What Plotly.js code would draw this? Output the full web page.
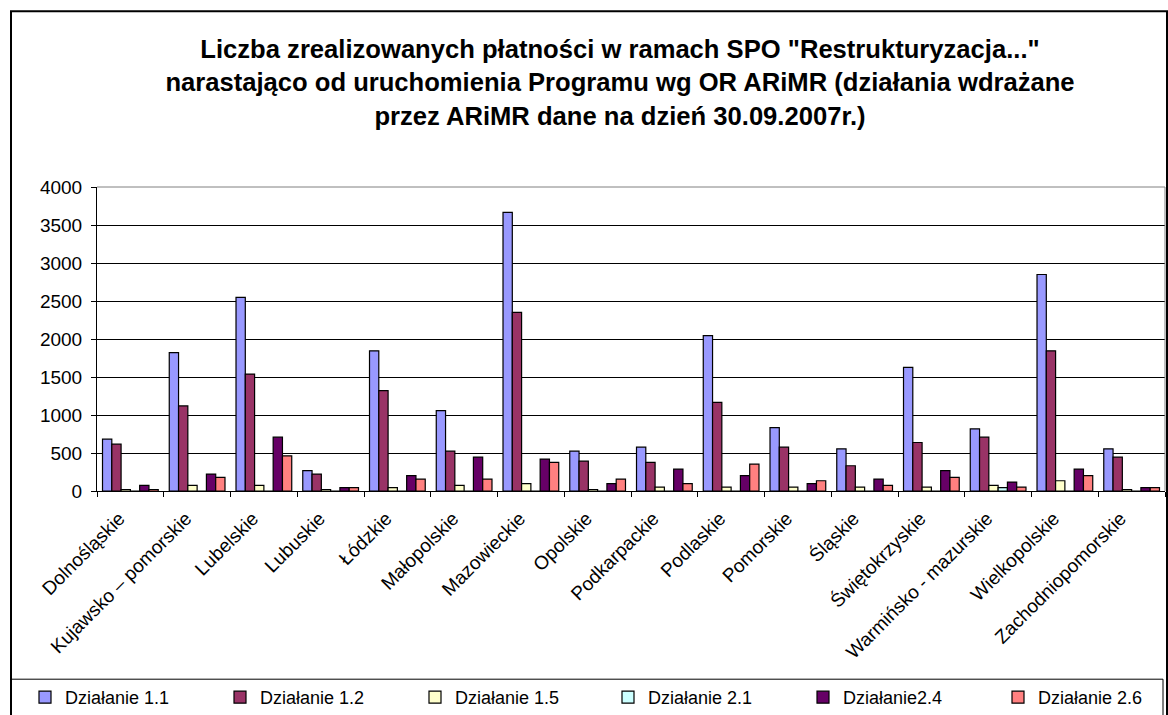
<!DOCTYPE html>
<html>
<head>
<meta charset="utf-8">
<script src="https://cdn.plot.ly/plotly-3.0.1.min.js"></script>
<style>html,body{margin:0;padding:0;background:#fff;}#chart{width:1168px;height:715px;}</style>
</head>
<body>
<div id="chart"></div>
<script>
const categories = ["Dolnośląskie","Kujawsko – pomorskie","Lubelskie","Lubuskie","Łódzkie","Małopolskie","Mazowieckie","Opolskie","Podkarpackie","Podlaskie","Pomorskie","Śląskie","Świętokrzyskie","Warmińsko - mazurskie","Wielkopolskie","Zachodniopomorskie"];
const seriesNames = ["Działanie 1.1","Działanie 1.2","Działanie 1.5","Działanie 2.1","Działanie2.4","Działanie 2.6"];
const dz11 = [682,1822,2548,267,1844,1058,3666,524,577,2045,835,555,1626,817,2849,555];
const dz12 = [616,1119,1538,223,1320,524,2351,393,376,1167,577,332,638,708,1844,446];
const dz15 = [20,74,74,20,44,74,96,20,52,52,52,52,52,74,135,20];
const dz21 = [0,0,0,0,0,0,0,0,0,0,0,0,0,44,0,0];
const dz24 = [74,223,708,44,201,446,420,96,288,201,96,157,267,118,288,44];
const dz26 = [20,179,463,44,157,157,376,157,96,354,135,74,179,52,201,44];
const yTicks = [0,500,1000,1500,2000,2500,3000,3500,4000];

const colors = ["#9999FF","#993366","#FFFFCC","#CCFFFF","#660066","#FF8080"];
const values = [dz11,dz12,dz15,dz21,dz24,dz26];

const W=1168,H=715,L=97,R=3,T=187,B=223.5;
const pw=W-L-R, ph=H-T-B;
const px=x=>(x-L)/pw, py=y=>(H-B-y)/ph;

const traces = values.map((v,i)=>({
  type:'bar', x:categories, y:v, name:seriesNames[i],
  legend: i<3 ? 'legend' : 'legend2',
  marker:{color:colors[i], line:{color:'#000000', width:1.2}},
  hoverinfo:'skip'
}));

const font = "Arial, 'Liberation Sans', sans-serif";
const legendBase = {orientation:'h', xref:'container', xanchor:'left', y:1-679/H, yref:'container', yanchor:'top',
    font:{size:18,family:font}, entrywidth:150, entrywidthmode:'pixels', bgcolor:'rgba(0,0,0,0)', borderwidth:0};
const layout = {
  width:W, height:H,
  margin:{l:L,r:R,t:T,b:B},
  paper_bgcolor:'#ffffff', plot_bgcolor:'#ffffff',
  font:{family:font, size:18, color:'#000'},
  barmode:'group', bargap:0.165, bargroupgap:0,
  showlegend:true,
  title:{text:'Liczba zrealizowanych płatności w ramach SPO "Restrukturyzacja..."<br>narastająco od uruchomienia Programu wg OR ARiMR (działania wdrażane<br>przez ARiMR dane na dzień 30.09.2007r.)',
    font:{family:font,size:25.6,color:'#000',weight:'bold'},
    x:620/W, xanchor:'center', xref:'container', y:1-58/H, yanchor:'top', yref:'container'},
  xaxis:{type:'category', tickangle:-45, showline:true, linecolor:'#000', linewidth:1,
    ticks:'outside', tickson:'boundaries', ticklen:5, tickcolor:'#000',
    ticklabelstandoff:8, ticklabelshift:-11,
    showgrid:false, zeroline:false, tickfont:{size:19,family:font}},
  yaxis:{range:[0,4000], tickvals:yTicks, ticktext:yTicks.map(String), showline:true, linecolor:'#000', linewidth:1,
    ticks:'outside', ticklen:5, tickcolor:'#000', showgrid:true, gridcolor:'#000', gridwidth:1,
    ticklabelstandoff:5, zeroline:false, tickfont:{size:19,family:font}},
  legend: Object.assign({}, legendBase, {x:25/W}),
  legend2: Object.assign({}, legendBase, {x:608/W}),
  shapes:[
    {type:'line', xref:'paper', yref:'paper', x0:0, x1:1, y0:1, y1:1, line:{color:'#808080', width:1}},
    {type:'line', xref:'paper', yref:'paper', x0:1, x1:1, y0:0, y1:1, line:{color:'#808080', width:1}},
    {type:'rect', xref:'paper', yref:'paper', x0:px(11), x1:px(1167), y0:py(11), y1:py(717), line:{color:'#000', width:2}, layer:'below'},
    {type:'rect', xref:'paper', yref:'paper', x0:px(11), x1:px(1163), y0:py(680), y1:py(717), line:{color:'#000', width:1}, layer:'below'}
  ]
};
Plotly.newPlot('chart', traces, layout, {displayModeBar:false, staticPlot:true});
</script>
</body>
</html>
